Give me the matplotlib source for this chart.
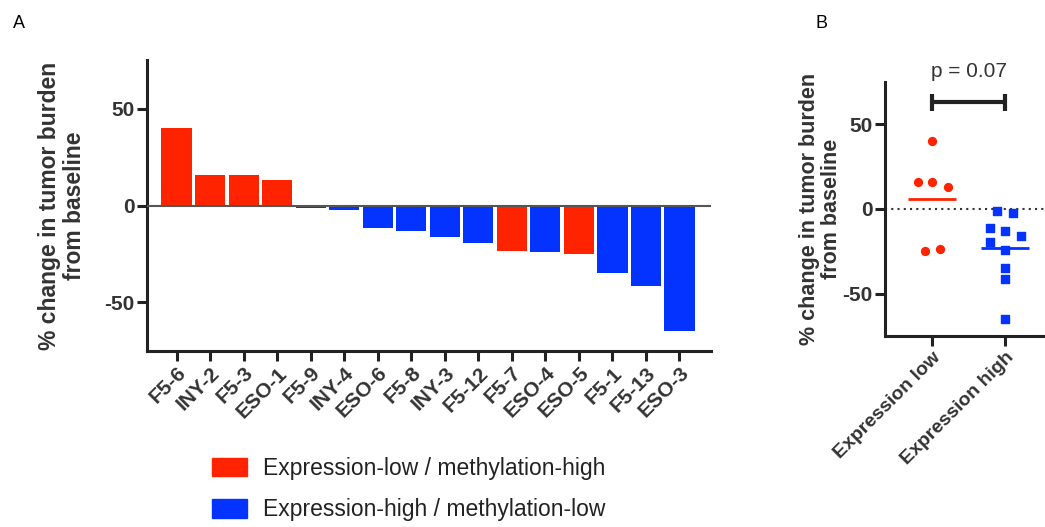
import numpy as np
import matplotlib
matplotlib.use('Agg')
import matplotlib.pyplot as plt
from matplotlib.patches import Patch

plt.rcParams['font.family'] = ['Liberation Sans', 'DejaVu Sans']

# panel A data
patients = ['F5-6', 'INY-2', 'F5-3', 'ESO-1', 'F5-9', 'INY-4', 'ESO-6', 'F5-8',
            'INY-3', 'F5-12', 'F5-7', 'ESO-4', 'ESO-5', 'F5-1', 'F5-13', 'ESO-3']
change = [40, 15.6, 15.6, 13.2, -1.4, -2.2, -11.5, -13.2,
          -16.2, -19.5, -23.4, -24.2, -24.9, -35, -41.3, -64.6]
group = ['low', 'low', 'low', 'low', 'high', 'high', 'high', 'high',
         'high', 'high', 'low', 'high', 'low', 'high', 'high', 'high']

# panel B data
groups_b = ['Expression low', 'Expression high']
low_vals = [40, 15.6, 15.6, 13.2, -23.4, -24.9]
high_vals = [-1.4, -2.2, -11.5, -13.2, -16.2, -19.5, -24.2, -35, -41.3, -64.6]
p_text = 'p = 0.07'

# scatter layout offsets (position only)
low_off = [0, -0.2, 0, 0.21, 0.11, -0.1]
high_off = [-0.11, 0.105, -0.2, 0, 0.22, -0.2, 0, 0, 0, 0]

red = '#ff2300'
blue = '#0433ff'
colors = {'low': red, 'high': blue}
txt = '#333333'

fig = plt.figure(figsize=(10.45, 5.27), dpi=100)

# ---- panel A
ax = fig.add_axes([0.1407, 0.334, 0.54, 0.552])
x = np.arange(len(patients))
ax.bar(x, change, width=0.9, color=[colors[g] for g in group], zorder=2)
ax.axhline(0, color='#555555', lw=1.5, zorder=3)
ax.set_xlim(-0.88, 15.95)
ax.set_ylim(-75, 75)
ax.set_yticks([-50, 0, 50])
ax.set_yticklabels(['-50', '0', '50'], fontsize=15, fontweight='bold', color=txt)
ax.set_xticks(x)
ax.set_xticklabels(patients, rotation=45, ha='right', rotation_mode='anchor',
                   fontsize=15, fontweight='bold', color=txt)
for s in ['top', 'right']:
    ax.spines[s].set_visible(False)
for s in ['left', 'bottom']:
    ax.spines[s].set_linewidth(2.2)
    ax.spines[s].set_color('#222222')
ax.tick_params(width=2.2, length=7, color='#222222', pad=2)
ax.set_ylabel('% change in tumor burden\nfrom baseline', fontsize=16.5,
              fontweight='bold', color=txt, labelpad=13, linespacing=1.1)

handles = [Patch(color=red, label='Expression-low / methylation-high'),
           Patch(color=blue, label='Expression-high / methylation-low')]
fig.legend(handles=handles, loc='upper left', bbox_to_anchor=(0.203, 0.133),
           frameon=False, fontsize=16.5, handlelength=1.53, handleheight=0.87,
           handletextpad=0.7, labelspacing=0.8, borderpad=0, borderaxespad=0,
           labelcolor='#222222')

# ---- panel B
bx = fig.add_axes([0.847, 0.362, 0.153, 0.483])
bx.scatter(np.array(low_off), low_vals, s=32, marker='o', color=red, zorder=3)
bx.scatter(1 + np.array(high_off), high_vals, s=34, marker='s', color=blue, zorder=3)
bx.hlines(np.mean(low_vals), -0.33, 0.33, color=red, lw=2)
bx.hlines(np.mean(high_vals), 1 - 0.33, 1 + 0.33, color=blue, lw=2)
bx.axhline(0, color=txt, lw=1.5, ls=(0, (1, 2)), zorder=1)
bx.set_xlim(-0.65, 1.55)
bx.set_ylim(-75, 75)
bx.set_yticks([-50, 0, 50])
bx.set_yticklabels(['-50', '0', '50'], fontsize=15, fontweight='bold', color=txt)
bx.set_xticks([0, 1])
bx.set_xticklabels(groups_b, rotation=45, ha='right', rotation_mode='anchor',
                   fontsize=14, fontweight='bold', color=txt)
for s in ['top', 'right']:
    bx.spines[s].set_visible(False)
for s in ['left', 'bottom']:
    bx.spines[s].set_linewidth(2.2)
    bx.spines[s].set_color('#222222')
bx.tick_params(width=2.2, length=7, color='#222222', pad=2)
bx.set_ylabel('% change in tumor burden\nfrom baseline', fontsize=15.5,
              fontweight='bold', color=txt, labelpad=0, linespacing=1.1)

# significance bracket
bx.plot([0, 1], [63, 63], color='#222222', lw=3, clip_on=False, solid_capstyle='butt')
bx.plot([0, 0], [58, 68], color='#222222', lw=3, clip_on=False, solid_capstyle='butt')
bx.plot([1, 1], [58, 68], color='#222222', lw=3, clip_on=False, solid_capstyle='butt')
bx.text(0.5, 81, p_text, ha='center', va='center', fontsize=15, color=txt, clip_on=False)

fig.text(0.012, 0.955, 'A', fontsize=13, va='center')
fig.text(0.78, 0.955, 'B', fontsize=13, va='center')

fig.savefig('out.png', dpi=100)
